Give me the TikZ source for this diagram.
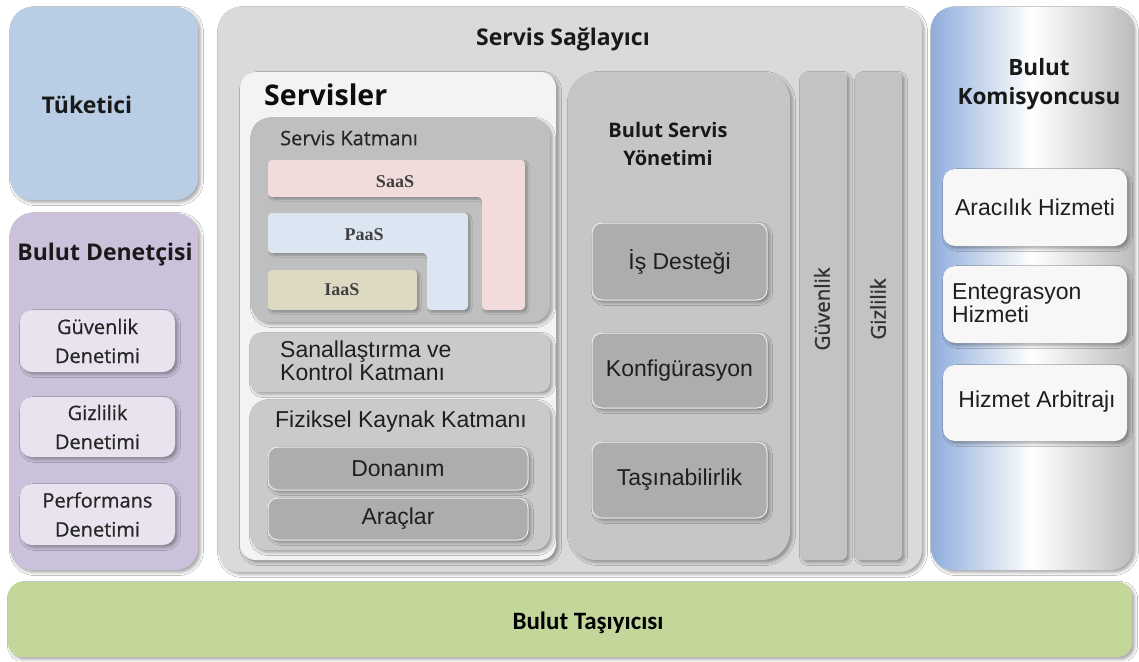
\documentclass[tikz,border=0pt]{standalone}
\usepackage{fontspec}
\setmainfont{Open Sans}
\newfontfamily\semif[FakeBold=0.6]{Open Sans}
\newfontfamily\vertf[FakeBold=1.4]{Open Sans}
\newfontfamily\arialf{Liberation Sans}
\newfontfamily\calibf{Carlito}
\newfontfamily\seriff{Liberation Serif}
\usetikzlibrary{fit,shadows.blur}

\definecolor{tukc}{HTML}{B9CDE5}
\definecolor{denc}{HTML}{CCC1DA}
\definecolor{denin}{HTML}{E8E3EE}
\definecolor{provc}{HTML}{DADADA}
\definecolor{servc}{HTML}{F3F3F3}
\definecolor{katc}{HTML}{BFBFBF}
\definecolor{saasc}{HTML}{F2DCDB}
\definecolor{paasc}{HTML}{DCE6F2}
\definecolor{iaasc}{HTML}{DDD9C3}
\definecolor{sanc}{HTML}{CACACA}
\definecolor{raisc}{HTML}{ADADAD}
\definecolor{ysc}{HTML}{C6C6C6}
\definecolor{colc}{HTML}{C3C3C3}
\definecolor{brokl}{HTML}{8FADDB}
\definecolor{brokr}{HTML}{BDBDBD}
\definecolor{brokin}{HTML}{F7F7F7}
\definecolor{carc}{HTML}{C4D79B}

\begin{document}
\begin{tikzpicture}[x=1pt,y=-1pt,
  panel/.style={draw=none, rounded corners=#1, inner sep=0pt, outer sep=0pt,
    blur shadow={shadow xshift=2.5pt, shadow yshift=-2.5pt,
                 shadow blur radius=3pt, shadow opacity=35}},
  panel/.default=22pt,
  raised/.style={panel=10pt, fill=raisc, draw=white!85!gray, line width=1pt},
  ttl/.style={font=\fontsize{23}{28}\selectfont\bfseries, text=black!90,
    align=center, inner sep=0pt},
  big/.style={font=\fontsize{28.5}{30}\selectfont\bfseries, text=black!95,
    inner sep=0pt},
  lab/.style={font=\semif\fontsize{20}{29}\selectfont, text=black!85,
    align=center, inner sep=0pt},
  arl/.style={font=\arialf\fontsize{23}{19}\selectfont, text=black!88,
    align=center, inner sep=0pt},
  srf/.style={font=\seriff\fontsize{18}{20}\selectfont\bfseries,
    text=black!75, inner sep=0pt},
  vtx/.style={font=\vertf\fontsize{20.5}{22}\selectfont, text=black!80,
    rotate=90, inner sep=0pt}
]
\useasboundingbox (0,0) rectangle (1139,661);
\fill[white] (0,0) rectangle (1139,661);

% Consumer
\node[panel, fill=tukc, fit={(10,7)(198,200)}] (tuketici) {};
\node[ttl] (tuketici-t) at (87,105) {Tüketici};

% Auditor
\node[panel, fill=denc, fit={(10,213)(198,570)}] (denetci) {};
\node[ttl] (denetci-t) at (105,255) {Bulut Denetçisi};
\node[panel=12pt, fill=denin, fit={(20,310)(175,372)}] (gd) {};
\node[lab] (gd-t) at (gd.center) {Güvenlik\\Denetimi};
\node[panel=12pt, fill=denin, fit={(20,397)(175,457)}] (zd) {};
\node[lab] (zd-t) at (zd.center) {Gizlilik\\Denetimi};
\node[panel=12pt, fill=denin, fit={(20,484)(175,545)}] (pd) {};
\node[lab] (pd-t) at (pd.center) {Performans\\Denetimi};

% Provider
\node[panel, fill=provc, fit={(218,7)(922,572)}] (saglayici) {};
\node[ttl] (saglayici-t) at (563,39) {Servis Sağlayıcı};

\node[panel=16pt, fill=servc, fit={(240,72)(556,560)}] (servisler) {};
\node[big, anchor=west] (servisler-t) at (264,95) {Servisler};

\node[panel=18pt, fill=katc, fit={(251,118)(550,322)}] (katman) {};
\node[lab, anchor=west] (katman-t) at (280,138) {Servis Katmanı};

% service model L-shapes
\fill[saasc, rounded corners=4pt,
  blur shadow={shadow xshift=2pt, shadow yshift=-2pt, shadow blur radius=2pt, shadow opacity=30}]
  (268,160) -- (525,160) -- (525,310) -- (482,310) -- (482,197) -- (268,197) -- cycle;
\fill[paasc, rounded corners=4pt,
  blur shadow={shadow xshift=2pt, shadow yshift=-2pt, shadow blur radius=2pt, shadow opacity=30}]
  (268,213) -- (468,213) -- (468,310) -- (427,310) -- (427,253) -- (268,253) -- cycle;
\fill[iaasc, rounded corners=4pt,
  blur shadow={shadow xshift=2pt, shadow yshift=-2pt, shadow blur radius=2pt, shadow opacity=30}]
  (268,270) rectangle (417,310);
\node[srf] (saas) at (395,182) {SaaS};
\node[srf] (paas) at (364,235) {PaaS};
\node[srf] (iaas) at (342,290) {IaaS};

\node[panel=10pt, fill=sanc, fit={(250,333)(550,392)}] (sanal) {};
\node[arl, align=left, anchor=west] (sanal-t) at (280,361) {Sanallaştırma ve\\Kontrol Katmanı};

\node[panel=16pt, fill=sanc, fit={(250,400)(550,550)}] (fiziksel) {};
\node[arl] (fiziksel-t) at (401,422) {Fiziksel Kaynak Katmanı};
\node[raised, fit={(268,447)(528,490)}] (donanim) {};
\node[arl] (donanim-t) at (donanim.center) {Donanım};
\node[raised, fit={(268,498)(528,540)}] (araclar) {};
\node[arl] (araclar-t) at (araclar.center) {Araçlar};

% Service management
\node[panel=28pt, fill=ysc, fit={(568,72)(790,560)}] (yonetim) {};
\node[ttl, font=\fontsize{20}{28}\selectfont\bfseries] (yonetim-t) at (668,144) {Bulut Servis\\Yönetimi};
\node[raised, fit={(592,223)(767,300)}] (destek) {};
\node[arl] (destek-t) at (destek.center) {İş Desteği};
\node[raised, fit={(592,333)(767,408)}] (konfig) {};
\node[arl] (konfig-t) at (konfig.center) {Konfigürasyon};
\node[raised, fit={(592,442)(767,518)}] (tasin) {};
\node[arl] (tasin-t) at (tasin.center) {Taşınabilirlik};

% Cross-cutting columns
\node[panel=6pt, fill=colc, fit={(800,72)(847,560)}] (guvenlik) {};
\node[vtx] (guvenlik-t) at (822,309) {Güvenlik};
\node[panel=6pt, fill=colc, fit={(855,72)(902,560)}] (gizlilik) {};
\node[vtx] (gizlilik-t) at (878,309) {Gizlilik};

% Broker
\node[panel, left color=brokl, right color=brokr, middle color=white,
  fit={(931,7)(1133,570)}] (komisyon) {};
\node[ttl, font=\fontsize{22.5}{29}\selectfont\bfseries] (komisyon-t) at (1039,84) {Bulut\\Komisyoncusu};
\node[panel=12pt, fill=brokin, fit={(943,169)(1127,246)}] (aracilik) {};
\node[arl] (aracilik-t) at (aracilik.center) {Aracılık Hizmeti};
\node[panel=12pt, fill=brokin, fit={(943,266)(1127,343)}] (entegre) {};
\node[arl, align=left, font=\arialf\fontsize{23}{17}\selectfont, anchor=west] (entegre-t) at (952,303) {Entegrasyon\\Hizmeti};
\node[panel=12pt, fill=brokin, fit={(943,365)(1127,441)}] (arbitraj) {};
\node[arl] (arbitraj-t) at (1037,402) {Hizmet Arbitrajı};

% Carrier
\node[panel=14pt, fill=carc, fit={(8,582)(1132,657)}] (tasiyici) {};
\node[font=\calibf\fontsize{25}{28}\selectfont\bfseries, inner sep=0pt]
  (tasiyici-t) at (588,623) {Bulut Taşıyıcısı};
\end{tikzpicture}
\end{document}
